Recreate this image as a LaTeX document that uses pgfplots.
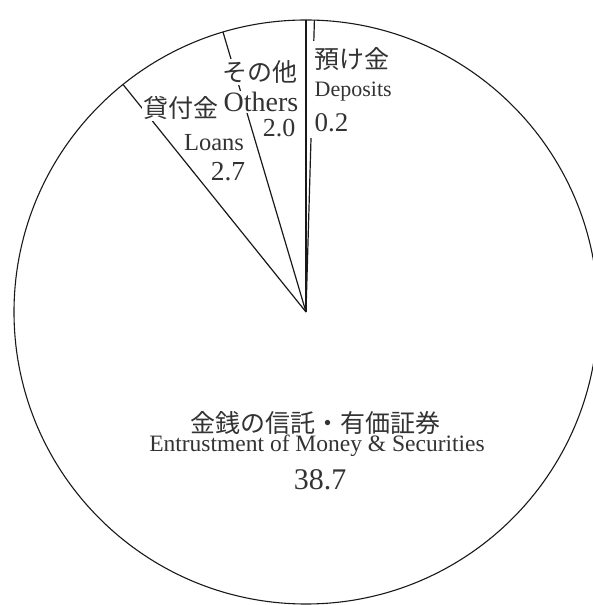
\documentclass[border=0pt]{standalone}
\usepackage{fontspec}
\setmainfont{Liberation Serif}
\newfontfamily\jp{Noto Sans CJK JP}
\usepackage{pgfplots}
\usepackage{pgfplotstable}
\pgfplotsset{compat=1.18}

% slices counter-clockwise from 12 o'clock
\pgfplotstableread{
label value
Others 2.0
Loans 2.7
Securities 38.7
Deposits 0.2
}\piedata
\pgfplotstablegetelem{0}{value}\of\piedata \let\vA\pgfplotsretval
\pgfplotstablegetelem{1}{value}\of\piedata \let\vB\pgfplotsretval
\pgfplotstablegetelem{2}{value}\of\piedata \let\vC\pgfplotsretval
\pgfplotstablegetelem{3}{value}\of\piedata \let\vD\pgfplotsretval
\pgfmathsetmacro{\tot}{\vA+\vB+\vC+\vD}
\pgfmathsetmacro{\aA}{90+360*\vA/\tot}
\pgfmathsetmacro{\aB}{\aA+360*\vB/\tot}
\pgfmathsetmacro{\aC}{\aB+360*\vC/\tot}

\begin{document}%
\begin{tikzpicture}
\path[use as bounding box] (0,0) rectangle (593pt,605pt);
\begin{axis}[at={(0,0)}, anchor=south west,
  width=593pt, height=605pt, scale only axis, hide axis,
  xmin=-306, xmax=287, ymin=-293, ymax=312, clip=true]
  \draw[line width=1.1pt, black!90] (axis cs:0,0) circle[radius=292pt];
  \draw[line width=1.2pt, black!90] (axis cs:0,0) -- (axis cs:0,292);
  \draw[line width=1.2pt, black!90] (axis cs:0,0) -- (axis cs:{292*cos(\aA)},{292*sin(\aA)});
  \draw[line width=1.2pt, black!90] (axis cs:0,0) -- (axis cs:{292*cos(\aB)},{292*sin(\aB)});
  \draw[line width=1.2pt, black!90] (axis cs:0,0) -- (axis cs:{292*cos(\aC)},{292*sin(\aC)});
  \tikzset{lab/.style={fill=white, inner sep=1.5pt, text=black!80}}
  % Deposits
  \tikzset{dlab/.style={lab, anchor=west, inner xsep=4.5pt, inner ysep=6pt}}
  \node[dlab] at (axis cs:4,253) {\fontsize{25}{28}\selectfont\jp 預け金};
  \node[dlab] at (axis cs:4,220) {\fontsize{22}{24}\selectfont Deposits};
  \node[dlab] at (axis cs:4,189) {\fontsize{27}{28}\selectfont 0.2};
  % Others
  \node[lab] at (axis cs:-46,240) {\fontsize{25}{28}\selectfont\jp その他};
  \node[lab] at (axis cs:-45,210) {\fontsize{28}{30}\selectfont Others};
  \node[lab, anchor=east] at (axis cs:-9,184) {\fontsize{26}{28}\selectfont 2.0};
  % Loans
  \node[lab] at (axis cs:-125,204) {\fontsize{25}{28}\selectfont\jp 貸付金};
  \node[lab] at (axis cs:-92,169) {\fontsize{24.5}{28}\selectfont Loans};
  \node[lab] at (axis cs:-78,140) {\fontsize{27.5}{28}\selectfont 2.7};
  % Securities
  \node[lab] at (axis cs:9,-111) {\fontsize{25}{28}\selectfont\jp 金銭の信託・有価証券};
  \node[lab] at (axis cs:11,-134) {\fontsize{23.5}{26}\selectfont Entrustment of Money \& Securities};
  \node[lab] at (axis cs:14,-168) {\fontsize{30}{32}\selectfont 38.7};
\end{axis}
\end{tikzpicture}%
\end{document}
